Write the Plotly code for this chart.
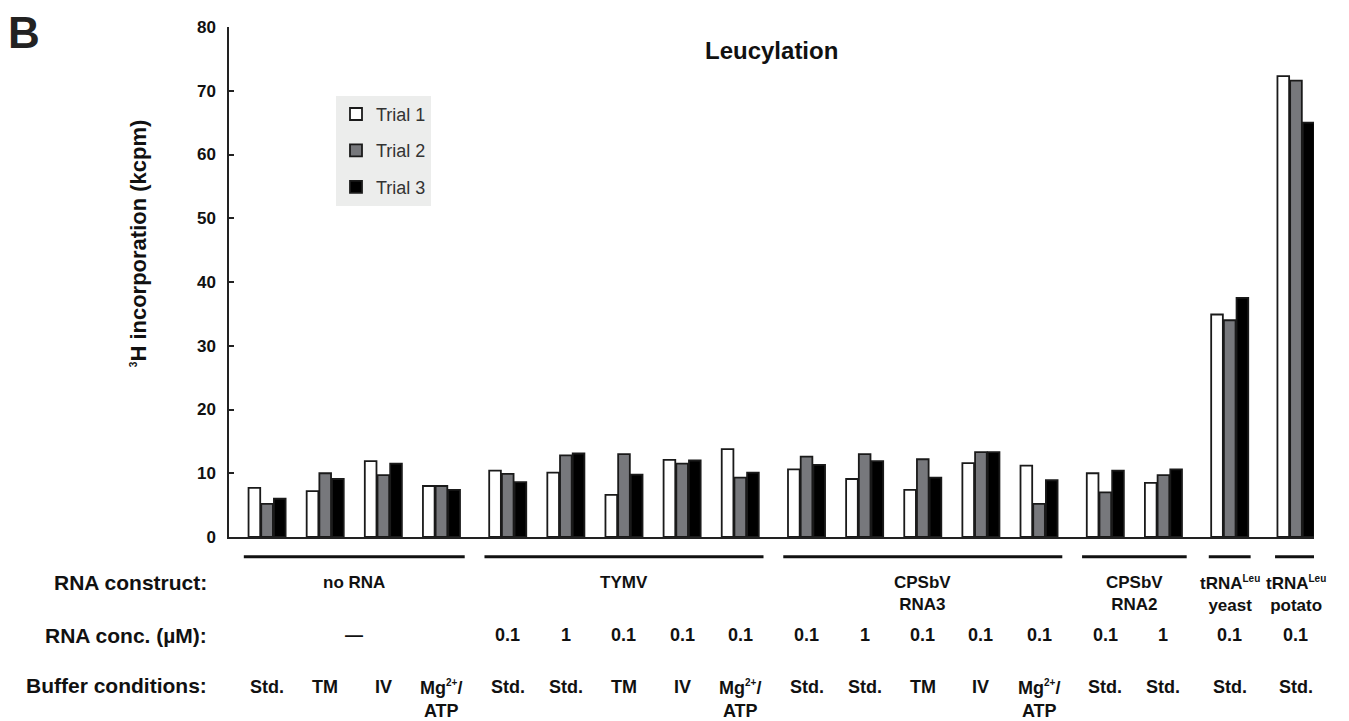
import plotly.graph_objects as go

# ---------------- data ----------------
SUP = '<sup><span style="font-size:10px">%s</span></sup>'
constructs = ["no RNA", "TYMV", "CPSbV<br>RNA3", "CPSbV<br>RNA2",
              "tRNA" + SUP % "Leu" + "<br>yeast", "tRNA" + SUP % "Leu" + "<br>potato"]
construct_sizes = [4, 5, 5, 2, 1, 1]
conc = ["—", "—", "—", "—",
        "0.1", "1", "0.1", "0.1", "0.1",
        "0.1", "1", "0.1", "0.1", "0.1",
        "0.1", "1", "0.1", "0.1"]
MGATP = "Mg" + SUP % "2+" + "/<br>ATP"
buffer = ["Std.", "TM", "IV", MGATP,
          "Std.", "Std.", "TM", "IV", MGATP,
          "Std.", "Std.", "TM", "IV", MGATP,
          "Std.", "Std.", "Std.", "Std."]
trial1 = [7.7, 7.2, 11.9, 8.0, 10.4, 10.1, 6.6, 12.1, 13.8,
          10.6, 9.1, 7.4, 11.6, 11.2, 10.0, 8.5, 34.9, 72.3]
trial2 = [5.2, 10.0, 9.7, 8.0, 9.9, 12.8, 13.0, 11.5, 9.3,
          12.6, 13.0, 12.2, 13.3, 5.2, 7.0, 9.7, 34.0, 71.6]
trial3 = [6.0, 9.1, 11.5, 7.4, 8.6, 13.1, 9.8, 12.0, 10.1,
          11.3, 11.9, 9.3, 13.3, 8.9, 10.4, 10.6, 37.5, 65.0]
series_names = ["Trial 1", "Trial 2", "Trial 3"]
series_colors = ["#ffffff", "#77787c", "#000000"]

# ---------------- positions (layout) ----------------
GAP = 0.14
xs, owner = [], []
for k, n in enumerate(construct_sizes):
    for j in range(n):
        xs.append(len(xs) + k * GAP)
        owner.append(k)

FONT = "Liberation Sans, Arial, sans-serif"
OFF = 8  # page body margin
W, H = 1349, 721
PLOT_TOP, PLOT_BOT, PLOT_L, PLOT_R = 18, 537, 229, 1314  # page pixels


def py(px):
    return (PLOT_BOT - px) / (PLOT_BOT - PLOT_TOP)


def pxx(px):
    return (px - PLOT_L) / (PLOT_R - PLOT_L)


fig = go.Figure()
for i, (name, vals, col) in enumerate(zip(series_names, [trial1, trial2, trial3], series_colors)):
    fig.add_trace(go.Bar(
        x=xs, y=vals, name=name, legendgroup=str(i),
        marker=dict(color=col, line=dict(color="#1a1a1a", width=1.8)),
        hoverinfo="skip",
    ))

LBL = 18
annotations = []
shapes = []
for k, lab in enumerate(constructs):
    idx = [i for i, o in enumerate(owner) if o == k]
    first, last = xs[idx[0]], xs[idx[-1]]
    center = (first + last) / 2
    ext = 0.4 if len(idx) > 1 else 0.36
    shapes.append(dict(type="line", xref="x", yref="paper",
                       x0=first - ext, x1=last + ext, y0=py(557), y1=py(557),
                       line=dict(color="#111", width=3)))
    annotations.append(dict(x=center, y=py(572), xref="x", yref="paper",
                            text="<b>%s</b>" % lab, showarrow=False,
                            xanchor="center", yanchor="top",
                            font=dict(size=17, family=FONT, color="#111")))
    cvals = [conc[i] for i in idx]
    if all(c == "—" for c in cvals):
        annotations.append(dict(x=center, y=py(637), xref="x", yref="paper",
                                text="<b>—</b>", showarrow=False,
                                xanchor="center", yanchor="middle",
                                font=dict(size=LBL, family=FONT, color="#111")))

for i, x in enumerate(xs):
    if conc[i] != "—":
        annotations.append(dict(x=x, y=py(637), xref="x", yref="paper",
                                text="<b>%s</b>" % conc[i], showarrow=False,
                                xanchor="center", yanchor="middle",
                                font=dict(size=LBL, family=FONT, color="#111")))
    annotations.append(dict(x=x, y=py(677), xref="x", yref="paper",
                            text="<b>%s</b>" % buffer[i], showarrow=False,
                            xanchor="center", yanchor="top",
                            font=dict(size=LBL, family=FONT, color="#111")))

for txt, ypx in [("RNA construct:", 583), ("RNA conc. (µM):", 637), ("Buffer conditions:", 688)]:
    annotations.append(dict(x=pxx(209), y=py(ypx), xref="paper", yref="paper",
                            text="<b>%s</b>" % txt, showarrow=False,
                            xanchor="right", yanchor="middle",
                            font=dict(size=21, family=FONT, color="#111")))

annotations.append(dict(x=pxx(138), y=py(238), xref="paper", yref="paper",
                        text="<b>" + SUP % "3" + "H incorporation (kcpm)</b>", textangle=-90,
                        showarrow=False, xanchor="center", yanchor="middle",
                        font=dict(size=22, family=FONT, color="#111")))
annotations.append(dict(x=0.5, y=py(42), xref="paper", yref="paper",
                        text="<b>Leucylation</b>", showarrow=False,
                        xanchor="center", yanchor="middle",
                        font=dict(size=24, family=FONT, color="#111")))
annotations.append(dict(x=pxx(24), y=py(24), xref="paper", yref="paper",
                        text="<b>B</b>", showarrow=False,
                        xanchor="center", yanchor="middle",
                        font=dict(size=44, family=FONT, color="#222")))

fig.update_layout(
    width=W, height=H,
    margin=dict(l=PLOT_L - OFF, r=W - (PLOT_R - OFF), t=PLOT_TOP - OFF,
                b=H - (PLOT_BOT - OFF)),
    paper_bgcolor="white", plot_bgcolor="white",
    barmode="group", bargap=0.345, bargroupgap=0.08,
    showlegend=True,
    legend=dict(x=pxx(336), y=py(88), xanchor="left", yanchor="top",
                bgcolor="#ecedec", borderwidth=0,
                font=dict(size=18, family=FONT, color="#333"),
                traceorder="grouped", tracegroupgap=10),
    annotations=annotations, shapes=shapes,
    font=dict(family=FONT, color="#111"),
    hovermode=False,
)
fig.update_xaxes(range=[-0.655, xs[-1] + 0.31], showline=True, linecolor="#222",
                 linewidth=1.5, showticklabels=False, ticks="", showgrid=False,
                 zeroline=False)
fig.update_yaxes(range=[0, 80], dtick=10, showline=True, linecolor="#222",
                 linewidth=1.5, ticks="inside", ticklen=5, tickwidth=1.5,
                 tickcolor="#222", showgrid=False, zeroline=False,
                 ticklabelstandoff=8,
                 tickfont=dict(size=17, family=FONT, color="#111", weight="bold"))

fig.write_html("out.html", config={"displayModeBar": False})
